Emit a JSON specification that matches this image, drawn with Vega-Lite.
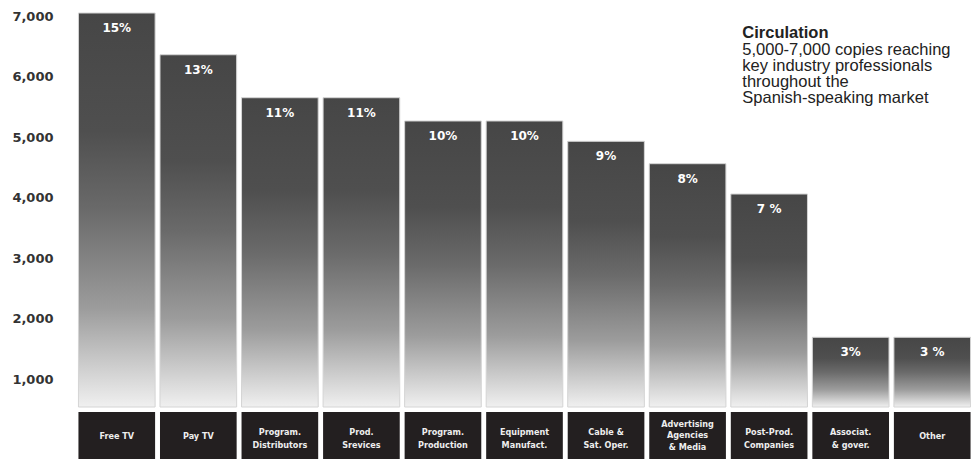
{
  "$schema": "https://vega.github.io/schema/vega-lite/v6.json",
  "padding": {"left": 11, "top": 10, "right": 0, "bottom": 0},
  "background": "white",
  "config": {"view": {"stroke": null}},
  "data": {
    "values": [
      {"cat": "Free TV", "label": "Free TV", "value": 7050, "pct": "15%"},
      {"cat": "Pay TV", "label": "Pay TV", "value": 6360, "pct": "13%"},
      {"cat": "Program. Distributors", "label": "Program.\nDistributors", "value": 5650, "pct": "11%"},
      {"cat": "Prod. Srevices", "label": "Prod.\nSrevices", "value": 5650, "pct": "11%"},
      {"cat": "Program. Production", "label": "Program.\nProduction", "value": 5266, "pct": "10%"},
      {"cat": "Equipment Manufact.", "label": "Equipment\nManufact.", "value": 5266, "pct": "10%"},
      {"cat": "Cable & Sat. Oper.", "label": "Cable &\nSat. Oper.", "value": 4930, "pct": "9%"},
      {"cat": "Advertising Agencies & Media", "label": "Advertising\nAgencies\n& Media", "value": 4560, "pct": "8%"},
      {"cat": "Post-Prod. Companies", "label": "Post-Prod.\nCompanies", "value": 4059, "pct": "7 %"},
      {"cat": "Associat. & gover.", "label": "Associat.\n& gover.", "value": 1692, "pct": "3%"},
      {"cat": "Other", "label": "Other", "value": 1692, "pct": "3 %"}
    ]
  },
  "spacing": 4,
  "vconcat": [
    {
      "width": 897,
      "height": 394,
      "layer": [
        {
          "mark": {
            "type": "bar",
            "stroke": "#d4d4d4",
            "strokeWidth": 1,
            "color": {
              "gradient": "linear",
              "x1": 0, "y1": 0, "x2": 0, "y2": 1,
              "stops": [
                {"offset": 0, "color": "#464646"},
                {"offset": 0.3, "color": "#4f4f4f"},
                {"offset": 0.5, "color": "#6a6a6a"},
                {"offset": 0.75, "color": "#9c9c9c"},
                {"offset": 1, "color": "#f0f0f0"}
              ]
            }
          },
          "encoding": {
            "x": {"field": "cat", "type": "nominal", "sort": null, "axis": null,
                  "scale": {"paddingInner": 0.06, "paddingOuter": 0.03}},
            "y": {"field": "value", "type": "quantitative",
                  "scale": {"domain": [540, 7050], "zero": false, "nice": false},
                  "axis": {"values": [1000, 2000, 3000, 4000, 5000, 6000, 7000], "format": ",d",
                           "labelFont": "DejaVu Sans", "labelFontWeight": "bold", "labelFontSize": 13,
                           "labelColor": "#333333", "labelPadding": 23, "ticks": false,
                           "domain": false, "grid": false, "title": null}},
            "y2": {"datum": 540}
          }
        },
        {
          "mark": {"type": "text", "color": "white", "font": "DejaVu Sans", "fontWeight": "bold",
                   "fontSize": 12, "baseline": "middle", "dy": 15},
          "encoding": {
            "x": {"field": "cat", "type": "nominal", "sort": null},
            "y": {"field": "value", "type": "quantitative"},
            "text": {"field": "pct", "type": "nominal"}
          }
        },
        {
          "data": {"values": [{}]},
          "mark": {"type": "text", "text": "Circulation", "font": "Liberation Sans", "fontWeight": "bold",
                   "fontSize": 16.5, "color": "#222222", "align": "left", "baseline": "alphabetic"},
          "encoding": {
            "x": {"datum": "Post-Prod. Companies", "type": "nominal", "bandPosition": 0.15},
            "y": {"datum": 6637, "type": "quantitative"}
          }
        },
        {
          "data": {"values": [{}]},
          "mark": {"type": "text",
                   "text": ["5,000-7,000 copies reaching", "key industry professionals", "throughout the", "Spanish-speaking market"],
                   "font": "Liberation Sans", "fontSize": 16.5, "lineHeight": 16, "color": "#222222",
                   "align": "left", "baseline": "alphabetic"},
          "encoding": {
            "x": {"datum": "Post-Prod. Companies", "type": "nominal", "bandPosition": 0.15},
            "y": {"datum": 6356, "type": "quantitative"}
          }
        }
      ]
    },
    {
      "width": 897,
      "height": 47,
      "layer": [
        {
          "mark": {"type": "bar", "color": "#231f20"},
          "encoding": {
            "x": {"field": "cat", "type": "nominal", "sort": null, "axis": null,
                  "scale": {"paddingInner": 0.06, "paddingOuter": 0.03}}
          }
        },
        {
          "transform": [{"filter": "length(split(datum.label, '\\n')) == 1"}],
          "mark": {"type": "text", "color": "#eeeeee", "font": "DejaVu Sans Condensed", "fontWeight": "bold",
                   "fontSize": 9, "lineHeight": 12, "lineBreak": "\n", "baseline": "middle"},
          "encoding": {
            "x": {"field": "cat", "type": "nominal", "sort": null},
            "text": {"field": "label", "type": "nominal"}
          }
        },
        {
          "transform": [{"filter": "length(split(datum.label, '\\n')) == 2"}],
          "mark": {"type": "text", "color": "#eeeeee", "font": "DejaVu Sans Condensed", "fontWeight": "bold",
                   "fontSize": 9, "lineHeight": 13, "lineBreak": "\n", "baseline": "middle", "dy": -4},
          "encoding": {
            "x": {"field": "cat", "type": "nominal", "sort": null},
            "text": {"field": "label", "type": "nominal"}
          }
        },
        {
          "transform": [{"filter": "length(split(datum.label, '\\n')) == 3"}],
          "mark": {"type": "text", "color": "#eeeeee", "font": "DejaVu Sans Condensed", "fontWeight": "bold",
                   "fontSize": 9, "lineHeight": 11.5, "lineBreak": "\n", "baseline": "middle", "dy": -12},
          "encoding": {
            "x": {"field": "cat", "type": "nominal", "sort": null},
            "text": {"field": "label", "type": "nominal"}
          }
        }
      ]
    }
  ]
}
